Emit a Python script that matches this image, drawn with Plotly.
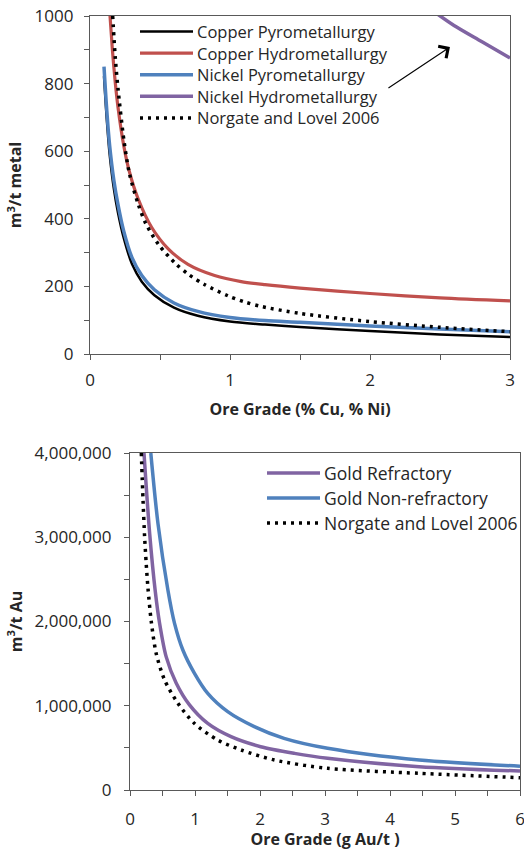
import plotly.graph_objects as go

# ---------------- Top chart data (m3/t metal vs ore grade % Cu / % Ni) ----------------
cu_pyro_grade = [0.10, 0.12, 0.14, 0.17, 0.20, 0.24, 0.30, 0.37, 0.46, 0.60, 0.77, 1.00, 1.25, 1.50, 2.00, 2.50, 3.00]
cu_pyro_water = [822, 693, 592, 490, 418, 345, 266, 214, 174, 137, 113, 96, 87, 80, 68, 58, 50]

cu_hydro_grade = [0.143, 0.16, 0.18, 0.20, 0.243, 0.281, 0.343, 0.44, 0.557, 0.70, 0.89, 1.08, 1.25, 1.50, 2.00, 2.50, 3.00]
cu_hydro_water = [1000, 900, 805, 730, 612, 540, 460, 375, 312, 265, 232, 214, 205, 195, 179, 166, 157]

ni_pyro_grade = [0.10, 0.12, 0.14, 0.17, 0.20, 0.24, 0.30, 0.37, 0.46, 0.60, 0.77, 1.00, 1.25, 1.50, 2.00, 2.50, 3.00]
ni_pyro_water = [850, 720, 618, 515, 442, 365, 285, 232, 190, 151, 126, 108, 99, 94, 83, 74, 66]

ni_hydro_grade = [2.45, 2.60, 2.80, 3.00]
ni_hydro_water = [1015, 972, 924, 876]

nl_metal_grade = [0.162, 0.18, 0.20, 0.243, 0.281, 0.343, 0.40, 0.493, 0.61, 0.705, 0.82, 0.986, 1.105, 1.22, 1.50, 2.00, 2.50, 3.00]
nl_metal_water = [1000, 880, 785, 630, 535, 445, 385, 322, 268, 235, 205, 172, 154, 141, 120, 96, 79, 66]

# ---------------- Bottom chart data (m3/t Au vs ore grade g Au/t) ----------------
au_ref_grade = [0.215, 0.302, 0.39, 0.455, 0.557, 0.71, 0.915, 1.196, 1.554, 2.01, 2.53, 3.04, 4.45, 6.00]
au_ref_water = [4000000, 3050000, 2350000, 1980000, 1580000, 1270000, 1010000, 790000, 633000, 514000, 435000, 376000, 277000, 225000]

au_nonref_grade = [0.32, 0.43, 0.583, 0.685, 0.813, 0.992, 1.196, 1.503, 1.912, 2.37, 3.04, 4.45, 6.00]
au_nonref_water = [4000000, 3165000, 2374000, 1978000, 1662000, 1385000, 1147000, 930000, 752000, 613000, 495000, 356000, 283000]

nl_au_grade = [0.174, 0.20, 0.225, 0.25, 0.276, 0.327, 0.403, 0.532, 0.736, 0.992, 1.35, 1.71, 2.22, 3.04, 4.45, 6.00]
nl_au_water = [4000000, 3450000, 3000000, 2680000, 2400000, 2000000, 1620000, 1306000, 1030000, 790000, 593000, 475000, 356000, 257000, 198000, 146000]

BLACK = "#000000"
RED = "#C0504D"
BLUE = "#4F81BD"
PURPLE = "#8064A2"
FONT = "Open Sans"
TXT = "#262626"
AXC = "#595959"
DOT = "3px,5px"

W, H = 524, 850
def px_x(p): return p / W
def px_y(p): return 1 - p / H

fig = go.Figure()

series = [
    # x, y, name, color, width, dash, xaxis, yaxis, legend row y(px), legend x(px), legend font size
    (cu_pyro_grade, cu_pyro_water, "Copper Pyrometallurgy", BLACK, 2.5, "solid", "x", "y", 31.5, 140, 16.5),
    (cu_hydro_grade, cu_hydro_water, "Copper Hydrometallurgy", RED, 3.2, "solid", "x", "y", 53.1, 140, 16.5),
    (ni_pyro_grade, ni_pyro_water, "Nickel Pyrometallurgy", BLUE, 3.5, "solid", "x", "y", 74.7, 140, 16.5),
    (ni_hydro_grade, ni_hydro_water, "Nickel Hydrometallurgy", PURPLE, 3.5, "solid", "x", "y", 96.3, 140, 16.5),
    (nl_metal_grade, nl_metal_water, "Norgate and Lovel 2006", BLACK, 3.5, DOT, "x", "y", 117.9, 140, 16.5),
    (au_ref_grade, au_ref_water, "Gold Refractory", PURPLE, 3.5, "solid", "x2", "y2", 473, 267, 17.5),
    (au_nonref_grade, au_nonref_water, "Gold Non-refractory", BLUE, 3.5, "solid", "x2", "y2", 498, 267, 17.5),
    (nl_au_grade, nl_au_water, "Norgate and Lovel 2006", BLACK, 3.5, DOT, "x2", "y2", 523, 267, 17.5),
]

KEY_LEN = 53
for x, y, name, color, width, dash, xa, ya, ly, lx, fs in series:
    fig.add_trace(go.Scatter(
        x=x, y=y, name=name, mode="lines",
        line=dict(color=color, width=width, dash=dash, shape="spline", smoothing=0.8),
        xaxis=xa, yaxis=ya, showlegend=False, hoverinfo="skip"))
    # legend key (Excel-style legend, positioned like the original)
    fig.add_shape(type="line", xref="paper", yref="paper",
                  x0=px_x(lx), x1=px_x(lx + KEY_LEN), y0=px_y(ly), y1=px_y(ly),
                  line=dict(color=color, width=width, dash=dash))
    fig.add_annotation(xref="paper", yref="paper", x=px_x(lx + KEY_LEN + 3), y=px_y(ly),
                       xanchor="left", yanchor="middle", text=name, showarrow=False,
                       borderpad=0, font=dict(family=FONT, size=fs, color=TXT))

axis_common = dict(
    showline=True, linecolor=AXC, linewidth=1.3, mirror=True,
    ticks="outside", ticklen=5, tickcolor=AXC, tickwidth=1.2,
    showgrid=False, zeroline=False, automargin=True, ticklabeloverflow="allow",
    tickfont=dict(family=FONT, size=17, color=TXT),
)
minor_common = dict(ticks="outside", ticklen=5, tickcolor=AXC, tickwidth=1.2)
title_font = dict(family=FONT, size=16, color=TXT, weight="bold")

fig.update_layout(
    width=W, height=H,
    margin=dict(l=0, r=0, t=0, b=0, autoexpand=False),
    paper_bgcolor="white", plot_bgcolor="white",
    font=dict(family=FONT, color=TXT),
    showlegend=False,
    xaxis=dict(domain=[px_x(90), px_x(510)], range=[0, 3], dtick=1, tick0=0,
               minor=dict(dtick=0.5, **minor_common), ticklabelstandoff=5,
               title=dict(text="Ore Grade (% Cu, % Ni)", font=title_font, standoff=14),
               anchor="y", **axis_common),
    yaxis=dict(domain=[px_y(354), px_y(16)], range=[0, 1000], dtick=200, tick0=0,
               minor=dict(dtick=100, **minor_common), ticklabelstandoff=7,
               title=dict(text="m<sup>3</sup>/t metal", font=title_font, standoff=8),
               anchor="x", **axis_common),
    xaxis2=dict(domain=[px_x(130), px_x(520)], range=[0, 6], dtick=1, tick0=0,
                minor=dict(dtick=0.5, **minor_common), ticklabelstandoff=8,
                title=dict(text="Ore Grade (g Au/t )", font=title_font, standoff=10),
                anchor="y2", **axis_common),
    yaxis2=dict(domain=[px_y(790), px_y(453)], range=[0, 4000000], dtick=1000000, tick0=0,
                tickformat=",", ticklabelstandoff=9,
                minor=dict(dtick=500000, **minor_common),
                title=dict(text="m<sup>3</sup>/t Au", font=title_font, standoff=8),
                anchor="x2", **axis_common),
)

# Arrow pointing to the Nickel Hydrometallurgy curve
fig.add_annotation(x=2.571, y=908, ax=2.121, ay=784, xref="x", yref="y", axref="x", ayref="y",
                   text="", showarrow=True, arrowhead=4, arrowsize=2.5, arrowwidth=1.1,
                   arrowcolor="#000000")

fig.write_html("out.html")
